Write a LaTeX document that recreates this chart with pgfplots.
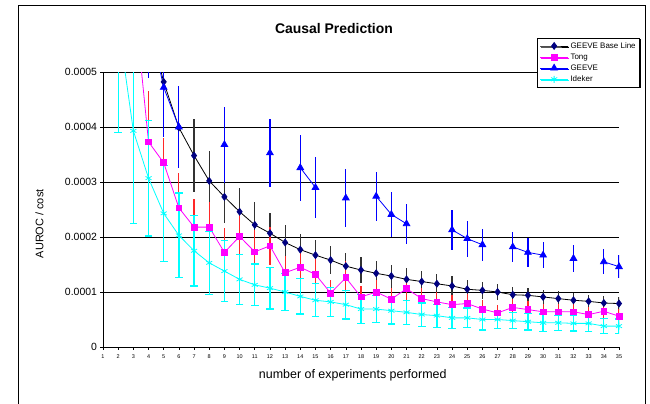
\documentclass[border=0pt]{standalone}
\usepackage{pgfplots}
\pgfplotsset{compat=1.18}
\usepackage{fontspec}
\setmainfont{Liberation Sans}
\usetikzlibrary{shadows}

\definecolor{basemark}{RGB}{0,0,128}
\definecolor{tongc}{RGB}{255,0,255}
\definecolor{tongerr}{RGB}{255,40,40}
\definecolor{geevec}{RGB}{0,0,255}
\definecolor{idekerc}{RGB}{0,255,255}
\definecolor{baseerr}{RGB}{50,50,50}

\pgfplotsset{
  ebar/.style={error bars/.cd, y dir=both, y explicit, error mark=none,
    error bar style={line width=1.2bp, #1}},
}

\begin{document}
\begin{tikzpicture}
\useasboundingbox (-103bp,-57bp) rectangle (547bp,347bp);
\draw[black, line width=0.8bp] (-85bp,-80bp) -- (-85bp,342bp) -- (542bp,342bp) -- (542bp,-80bp);
\node[font=\fontsize{14}{16}\selectfont\bfseries] at (231bp,318bp) {Causal Prediction};
\begin{axis}[
  at={(0,0)}, anchor=south west,
  scale only axis, width=516bp, height=275bp,
  xmin=1, xmax=35, ymin=0, ymax=5e-4,
  axis x line*=bottom, axis y line*=left,
  axis line style={-, line width=0.8bp},
  xtick={1,...,35},
  ytick={0,1e-4,2e-4,3e-4,4e-4,5e-4},
  yticklabels={0,0.0001,0.0002,0.0003,0.0004,0.0005},
  scaled y ticks=false,
  /pgf/number format/assume math mode=true,
  tick align=outside, major tick length=2.5bp,
  tick style={black, line width=0.6bp},
  xticklabel style={font=\fontsize{5.5}{6}\selectfont, yshift=-2bp},
  yticklabel style={font=\fontsize{10.5}{12}\selectfont},
  ymajorgrids, grid style={black, line width=0.7bp},
  xlabel={number of experiments performed},
  ylabel={AUROC / cost},
  xlabel style={font=\fontsize{12.5}{14}\selectfont, at={(axis description cs:0.484,-0.102)}, anchor=center},
  ylabel style={font=\fontsize{11}{13}\selectfont, at={(axis description cs:-0.123,0.448)}, anchor=center},
  unbounded coords=jump,
  legend style={at={(axis description cs:1.0407,1.1236)}, anchor=north east,
    font=\fontsize{8}{9}\selectfont, draw=black, line width=0.7bp,
    inner sep=2bp, row sep=0bp, cells={anchor=west},
    general shadow={shadow xshift=1bp, shadow yshift=-1bp, fill=black}},
  legend image code/.code={\draw[mark repeat=2,mark phase=2,#1] plot coordinates {(0bp,0bp) (14bp,0bp) (28bp,0bp)};},
]
% GEEVE Base Line
\addplot[black, line width=0.8bp, mark=diamond*, mark size=3.4bp,
  mark options={basemark, fill=basemark}, ebar={baseerr}] coordinates {
(1,24.0e-4) +- (0,4.0e-4) (2,12.0e-4) +- (0,2.0e-4) (3,8.0e-4) +- (0,1.4e-4)
(4,5.9e-4) +- (0,1.0e-4) (5,4.82e-4) +- (0,0.85e-4) (6,3.99e-4) +- (0,0.74e-4)
(7,3.48e-4) +- (0,0.66e-4) (8,3.02e-4) +- (0,0.55e-4) (9,2.73e-4) +- (0,0.48e-4)
(10,2.46e-4) +- (0,0.44e-4) (11,2.22e-4) +- (0,0.42e-4) (12,2.07e-4) +- (0,0.36e-4)
(13,1.90e-4) +- (0,0.32e-4) (14,1.77e-4) +- (0,0.28e-4) (15,1.67e-4) +- (0,0.27e-4)
(16,1.58e-4) +- (0,0.25e-4) (17,1.47e-4) +- (0,0.24e-4) (18,1.40e-4) +- (0,0.23e-4)
(19,1.34e-4) +- (0,0.23e-4) (20,1.29e-4) +- (0,0.21e-4) (21,1.23e-4) +- (0,0.20e-4)
(22,1.19e-4) +- (0,0.19e-4) (23,1.15e-4) +- (0,0.18e-4) (24,1.11e-4) +- (0,0.18e-4)
(25,1.05e-4) +- (0,0.17e-4) (26,1.03e-4) +- (0,0.16e-4) (27,1.00e-4) +- (0,0.15e-4)
(28,0.95e-4) +- (0,0.15e-4) (29,0.94e-4) +- (0,0.14e-4) (30,0.91e-4) +- (0,0.13e-4)
(31,0.88e-4) +- (0,0.13e-4) (32,0.85e-4) +- (0,0.13e-4) (33,0.83e-4) +- (0,0.12e-4)
(34,0.80e-4) +- (0,0.12e-4) (35,0.79e-4) +- (0,0.12e-4)
};
\addlegendentry{GEEVE Base Line}
% Tong
\addplot[tongc, line width=0.8bp, mark=square*, mark size=2.9bp,
  mark options={tongc, fill=tongc}, ebar={tongerr}] coordinates {
(1,20.0e-4) +- (0,5.0e-4) (2,10.0e-4) +- (0,2.5e-4) (3,6.5e-4) +- (0,1.6e-4)
(4,3.73e-4) +- (0,0.93e-4) (5,3.35e-4) +- (0,0.45e-4) (6,2.53e-4) +- (0,0.64e-4)
(7,2.18e-4) +- (0,0.51e-4) (8,2.18e-4) +- (0,0.46e-4) (9,1.72e-4) +- (0,0.44e-4)
(10,2.01e-4) +- (0,0.50e-4) (11,1.73e-4) +- (0,0.40e-4) (12,1.84e-4) +- (0,0.35e-4)
(13,1.35e-4) +- (0,0.30e-4) (14,1.45e-4) +- (0,0.33e-4) (15,1.32e-4) +- (0,0.30e-4)
(16,0.98e-4) +- (0,0.24e-4) (17,1.26e-4) +- (0,0.30e-4) (18,0.91e-4) +- (0,0.20e-4)
(19,1.00e-4) +- (0,0.22e-4) (20,0.87e-4) +- (0,0.20e-4) (21,1.06e-4) +- (0,0.24e-4)
(22,0.88e-4) +- (0,0.20e-4) (23,0.82e-4) +- (0,0.18e-4) (24,0.77e-4) +- (0,0.18e-4)
(25,0.79e-4) +- (0,0.18e-4) (26,0.69e-4) +- (0,0.16e-4) (27,0.62e-4) +- (0,0.15e-4)
(28,0.72e-4) +- (0,0.16e-4) (29,0.68e-4) +- (0,0.15e-4) (30,0.64e-4) +- (0,0.14e-4)
(31,0.64e-4) +- (0,0.14e-4) (32,0.64e-4) +- (0,0.14e-4) (33,0.59e-4) +- (0,0.13e-4)
(34,0.65e-4) +- (0,0.14e-4) (35,0.56e-4) +- (0,0.13e-4)
};
\addlegendentry{Tong}
% GEEVE
\addplot[geevec, line width=0.8bp, mark=triangle*, mark size=3.8bp,
  mark options={geevec, fill=geevec}, ebar={geevec}] coordinates {
(4,6.0e-4) +- (0,1.1e-4) (5,4.72e-4) +- (0,0.9e-4) (6,4.00e-4) +- (0,0.74e-4)
(7,nan) +- (0,0)
(9,3.68e-4) +- (0,0.69e-4)
(10,nan) +- (0,0)
(12,3.53e-4) +- (0,0.62e-4)
(13,nan) +- (0,0)
(14,3.26e-4) +- (0,0.60e-4) (15,2.90e-4) +- (0,0.55e-4)
(16,nan) +- (0,0)
(17,2.71e-4) +- (0,0.52e-4)
(18,nan) +- (0,0)
(19,2.74e-4) +- (0,0.45e-4) (20,2.41e-4) +- (0,0.41e-4) (21,2.24e-4) +- (0,0.36e-4)
(22,nan) +- (0,0)
(24,2.13e-4) +- (0,0.36e-4) (25,1.97e-4) +- (0,0.33e-4) (26,1.86e-4) +- (0,0.29e-4)
(27,nan) +- (0,0)
(28,1.82e-4) +- (0,0.27e-4) (29,1.72e-4) +- (0,0.27e-4) (30,1.67e-4) +- (0,0.24e-4)
(31,nan) +- (0,0)
(32,1.61e-4) +- (0,0.24e-4)
(33,nan) +- (0,0)
(34,1.55e-4) +- (0,0.23e-4) (35,1.46e-4) +- (0,0.21e-4)
};
\addlegendentry{GEEVE}
% Ideker
\addplot[idekerc, line width=0.8bp, mark=asterisk, mark size=3.5bp,
  mark options={idekerc, line width=0.8bp},
  error bars/.cd, y dir=both, y explicit, error mark=|,
  error bar style={line width=1.3bp, idekerc},
  error mark options={idekerc, line width=1.2bp, mark size=3.8bp}] coordinates {
(1,11.0e-4) +- (0,4.0e-4) (2,5.9e-4) +- (0,2.0e-4) (3,3.93e-4) +- (0,1.68e-4)
(4,3.07e-4) +- (0,1.05e-4) (5,2.43e-4) +- (0,0.87e-4) (6,2.03e-4) +- (0,0.77e-4)
(7,1.75e-4) +- (0,0.64e-4) (8,1.53e-4) +- (0,0.57e-4) (9,1.38e-4) +- (0,0.55e-4)
(10,1.23e-4) +- (0,0.45e-4) (11,1.13e-4) +- (0,0.38e-4) (12,1.07e-4) +- (0,0.38e-4)
(13,1.00e-4) +- (0,0.33e-4) (14,0.92e-4) +- (0,0.32e-4) (15,0.85e-4) +- (0,0.30e-4)
(16,0.82e-4) +- (0,0.26e-4) (17,0.77e-4) +- (0,0.26e-4) (18,0.69e-4) +- (0,0.26e-4)
(19,0.69e-4) +- (0,0.24e-4) (20,0.66e-4) +- (0,0.24e-4) (21,0.63e-4) +- (0,0.22e-4)
(22,0.59e-4) +- (0,0.21e-4) (23,0.57e-4) +- (0,0.21e-4) (24,0.53e-4) +- (0,0.19e-4)
(25,0.53e-4) +- (0,0.18e-4) (26,0.50e-4) +- (0,0.19e-4) (27,0.50e-4) +- (0,0.16e-4)
(28,0.48e-4) +- (0,0.15e-4) (29,0.46e-4) +- (0,0.15e-4) (30,0.44e-4) +- (0,0.16e-4)
(31,0.44e-4) +- (0,0.14e-4) (32,0.43e-4) +- (0,0.14e-4) (33,0.43e-4) +- (0,0.15e-4)
(34,0.38e-4) +- (0,0.14e-4) (35,0.38e-4) +- (0,0.13e-4)
};
\addlegendentry{Ideker}
\end{axis}
\end{tikzpicture}
\end{document}
